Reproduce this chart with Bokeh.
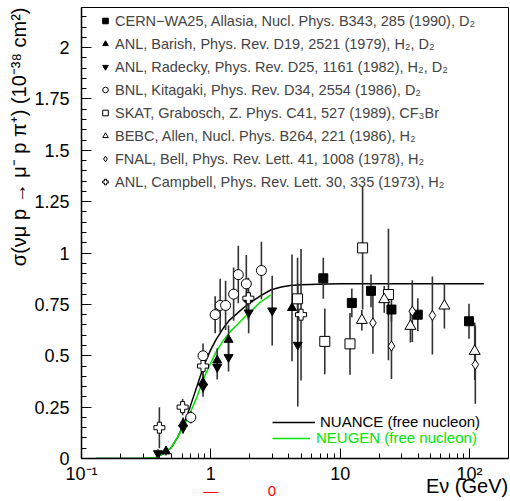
import numpy as np
from bokeh.plotting import figure
from bokeh.models import (Range1d, FixedTicker, Legend, LegendItem, LogAxis, Title)
from bokeh.embed import file_html
from bokeh.resources import INLINE

# ---------------- data ----------------
# CERN-WA25, Allasia (filled squares)
cern_e = [7.4, 12.3, 17.3, 24.9, 39.8, 99.0]
cern_s = [0.877, 0.757, 0.816, 0.725, 0.700, 0.668]
cern_err = [0.10, 0.07, 0.08, 0.06, 0.08, 0.085]

# ANL, Barish (filled up-triangles)
barish_e = [0.45, 0.61, 0.87, 1.12, 1.37, 1.95, 4.24]
barish_s = [0.035, 0.17, 0.37, 0.477, 0.578, 0.775, 0.733]
barish_err = [0.02, 0.03, 0.05, 0.06, 0.07, 0.10, 0.26]

# ANL, Radecky (filled down-triangles)
radecky_e = [0.39, 0.61, 0.87, 1.12, 1.37, 1.96, 2.98, 4.70]
radecky_s = [0.025, 0.15, 0.35, 0.445, 0.493, 0.71, 0.72, 0.553]
radecky_err = [0.02, 0.03, 0.05, 0.06, 0.07, 0.10, 0.17, 0.30]

# BNL, Kitagaki (open circles)
kit_e = [0.70, 0.87, 1.08, 1.18, 1.30, 1.50, 1.63, 1.88, 2.46]
kit_s = [0.20, 0.50, 0.70, 0.745, 0.745, 0.80, 0.895, 0.85, 0.915]
kit_err = [0.03, 0.06, 0.09, 0.13, 0.12, 0.13, 0.14, 0.14, 0.14]

# SKAT, Grabosch (open squares)
skat_e = [4.68, 7.6, 11.9, 14.9, 23.6]
skat_s = [0.777, 0.57, 0.558, 1.025, 0.798]
skat_err = [0.20, 0.16, 0.15, 0.30, 0.32]

# BEBC, Allen (open triangles)
bebc_e = [14.7, 21.9, 34.9, 63.9, 109.6]
bebc_s = [0.673, 0.774, 0.644, 0.743, 0.522]
bebc_err = [0.05, 0.065, 0.08, 0.11, 0.14]

# FNAL, Bell (open diamonds)
fnal_e = [17.9, 24.9, 36.1, 51.6, 110.8]
fnal_s = [0.66, 0.547, 0.717, 0.696, 0.457]
fnal_err = [0.15, 0.16, 0.15, 0.19, 0.19]

# ANL, Campbell (open crosses)
camp_e = [0.40, 0.605, 0.87, 1.95, 4.98]
camp_s = [0.15, 0.25, 0.45, 0.78, 0.70]
camp_err = [0.10, 0.04, 0.06, 0.10, 0.32]

# NUANCE (free nucleon) curve
nuance_e = [0.13, 0.2, 0.3, 0.37, 0.42, 0.49, 0.55, 0.62, 0.69, 0.78, 0.88,
            0.99, 1.1, 1.25, 1.4, 1.59, 1.8, 2.0, 2.4, 2.9, 3.5, 4.1, 5.0,
            6.6, 10.0, 20.0, 50.0, 129.0]
nuance_s = [0.0, 0.0, 0.0, 0.003, 0.02, 0.05, 0.1, 0.17, 0.25, 0.35, 0.45,
            0.525, 0.58, 0.635, 0.675, 0.705, 0.735, 0.757, 0.79, 0.82, 0.835,
            0.842, 0.846, 0.848, 0.85, 0.851, 0.851, 0.851]

# NEUGEN (free nucleon) curve
neugen_e = [0.13, 0.2, 0.3, 0.37, 0.42, 0.49, 0.55, 0.62, 0.69, 0.78, 0.88,
            0.99, 1.1, 1.25, 1.4, 1.59, 1.8, 2.0, 2.4, 2.9]
neugen_s = [0.0, 0.0, 0.0, 0.003, 0.02, 0.05, 0.1, 0.16, 0.22, 0.30, 0.39,
            0.46, 0.52, 0.575, 0.615, 0.65, 0.685, 0.71, 0.76, 0.795]

y_ticks = [0, 0.25, 0.5, 0.75, 1.0, 1.25, 1.5, 1.75, 2.0]
y_tick_labels = ["0", "0.25", "0.5", "0.75", "1", "1.25", "1.5", "1.75", "2"]
x_ticks = [0.1, 1, 10, 100]
x_tick_labels = ["10\u207b\u00b9", "1", "10", "10\u00b2"]

# stray red marks printed under the axis in the reference
red_pos = [1.0, 2.97]
red_labels = ["\u2014", "0"]

legend_labels = [
    "CERN\u2212WA25, Allasia, Nucl. Phys. B343, 285 (1990), D\u2082",
    "ANL, Barish, Phys. Rev. D19, 2521 (1979), H\u2082, D\u2082",
    "ANL, Radecky, Phys. Rev. D25, 1161 (1982), H\u2082, D\u2082",
    "BNL, Kitagaki, Phys. Rev. D34, 2554 (1986), D\u2082",
    "SKAT, Grabosch, Z. Phys. C41, 527 (1989), CF\u2083Br",
    "BEBC, Allen, Nucl. Phys. B264, 221 (1986), H\u2082",
    "FNAL, Bell, Phys. Rev. Lett. 41, 1008 (1978), H\u2082",
    "ANL, Campbell, Phys. Rev. Lett. 30, 335 (1973), H\u2082",
]
y_title = "\u03c3(\u03bd\u03bc p \u2192 \u03bc\u207b p \u03c0\u207a) (10\u207b\u00b3\u2078 cm\u00b2)"
x_title = "E\u03bd (GeV)"

FONT = "Liberation Sans"
GREEN = "#00e600"
X_TITLE_AT = 95.7   # position (in axis units) where the x title is centred

p = figure(width=510, height=501, x_axis_type="log",
           x_range=Range1d(0.1, 200), y_range=Range1d(0, 2.195),
           output_backend="svg", toolbar_location=None,
           min_border_left=81, min_border_right=2,
           min_border_top=7, min_border_bottom=43)
p.background_fill_color = "white"
p.border_fill_color = "white"
p.outline_line_color = "black"
p.outline_line_width = 1
p.grid.visible = False

xax = p.xaxis[0]
yax = p.yaxis[0]

# axes
xminor = [k * 10.0 ** n for n in (-1, 0, 1, 2) for k in range(2, 10) if k * 10.0 ** n <= 200]
xax.ticker = FixedTicker(ticks=x_ticks, minor_ticks=xminor)
xax.major_label_overrides = dict(zip(x_ticks, x_tick_labels))
yminor = [round(v, 2) for v in np.arange(0, 2.2, 0.05)]
yax.ticker = FixedTicker(ticks=y_ticks, minor_ticks=yminor)
yax.major_label_overrides = dict(zip(y_ticks, y_tick_labels))
for ax in (xax, yax):
    ax.major_tick_in = 10
    ax.major_tick_out = 0
    ax.minor_tick_in = 5
    ax.minor_tick_out = 0
    ax.axis_line_color = "black"
    ax.axis_line_width = 1.5
    ax.major_tick_line_color = "black"
    ax.minor_tick_line_color = "black"
    ax.major_label_text_font = FONT
    ax.major_label_text_font_size = "18px"
    ax.major_label_text_color = "black"
xax.major_label_standoff = 5
yax.major_label_standoff = 12

# y title as a side title, aligned to the top end
p.add_layout(Title(text=y_title, align="right", standoff=3,
                   text_font=FONT, text_font_size="20px",
                   text_font_style="normal", text_color="black"), "left")


def label_axis(ticks, labels, color, size, standoff):
    return LogAxis(ticker=FixedTicker(ticks=ticks, minor_ticks=[]),
                   major_label_overrides=dict(zip(ticks, labels)),
                   axis_line_color=None, major_tick_line_color=None,
                   minor_tick_line_color=None, major_tick_in=0,
                   major_tick_out=0, minor_tick_in=0, minor_tick_out=0,
                   major_label_standoff=standoff, major_label_text_font=FONT,
                   major_label_text_font_size=size,
                   major_label_text_color=color)


# red stray marks, then the x title (pulled up over the tick-label band)
p.add_layout(label_axis(red_pos, red_labels, "red", "15px", -5), "below")
p.add_layout(label_axis([X_TITLE_AT], [x_title], "black", "20px", -27), "below")

# curves
nuance_r = p.line(nuance_e, nuance_s, line_color="black", line_width=1.5)
neugen_r = p.line(neugen_e, neugen_s, line_color=GREEN, line_width=1.5)

# datasets
sets = [
    (cern_e, cern_s, cern_err, "square", 9, "black"),
    (barish_e, barish_s, barish_err, "triangle", 9, "black"),
    (radecky_e, radecky_s, radecky_err, "inverted_triangle", 9, "black"),
    (kit_e, kit_s, kit_err, "circle", 10, "white"),
    (skat_e, skat_s, skat_err, "square", 10, "white"),
    (bebc_e, bebc_s, bebc_err, "triangle", 11, "white"),
    (fnal_e, fnal_s, fnal_err, "diamond", 10, "white"),
    (camp_e, camp_s, camp_err, "plus", 11, "white"),
]

for e, s, err, *_ in sets:
    lo = [a - b for a, b in zip(s, err)]
    hi = [a + b for a, b in zip(s, err)]
    p.segment(x0=e, y0=lo, x1=e, y1=hi, line_color="#333333", line_width=1.6)

marker_renderers = []
for e, s, err, marker, size, fill in sets:
    r = p.scatter(e, s, marker=marker, size=size, fill_color=fill,
                  line_color="black", line_width=1)
    marker_renderers.append(r)

# legends
leg = Legend(items=[LegendItem(label=lab, renderers=[r])
                    for lab, r in zip(legend_labels, marker_renderers)],
             location=(17, 266), padding=0, margin=0, spacing=2,
             glyph_width=14, glyph_height=21, label_height=21,
             label_standoff=3, label_text_font=FONT,
             label_text_font_size="14.5px", label_text_baseline="middle",
             border_line_color=None, background_fill_alpha=0)
p.add_layout(leg)

leg2 = Legend(items=[LegendItem(label="NUANCE (free nucleon)", renderers=[nuance_r])],
              location=(191, 28), padding=0, margin=0,
              glyph_width=43, glyph_height=16, label_height=16,
              label_standoff=5, label_text_font=FONT,
              label_text_font_size="15px", label_text_baseline="alphabetic",
              label_text_color="black",
              border_line_color=None, background_fill_alpha=0)
p.add_layout(leg2)

leg3 = Legend(items=[LegendItem(label="NEUGEN (free nucleon)", renderers=[neugen_r])],
              location=(191, 12), padding=0, margin=0,
              glyph_width=38, glyph_height=16, label_height=16,
              label_standoff=6, label_text_font=FONT,
              label_text_font_size="15px", label_text_baseline="alphabetic",
              label_text_color=GREEN,
              border_line_color=None, background_fill_alpha=0)
p.add_layout(leg3)

open("out.html", "w").write(file_html(p, INLINE))
